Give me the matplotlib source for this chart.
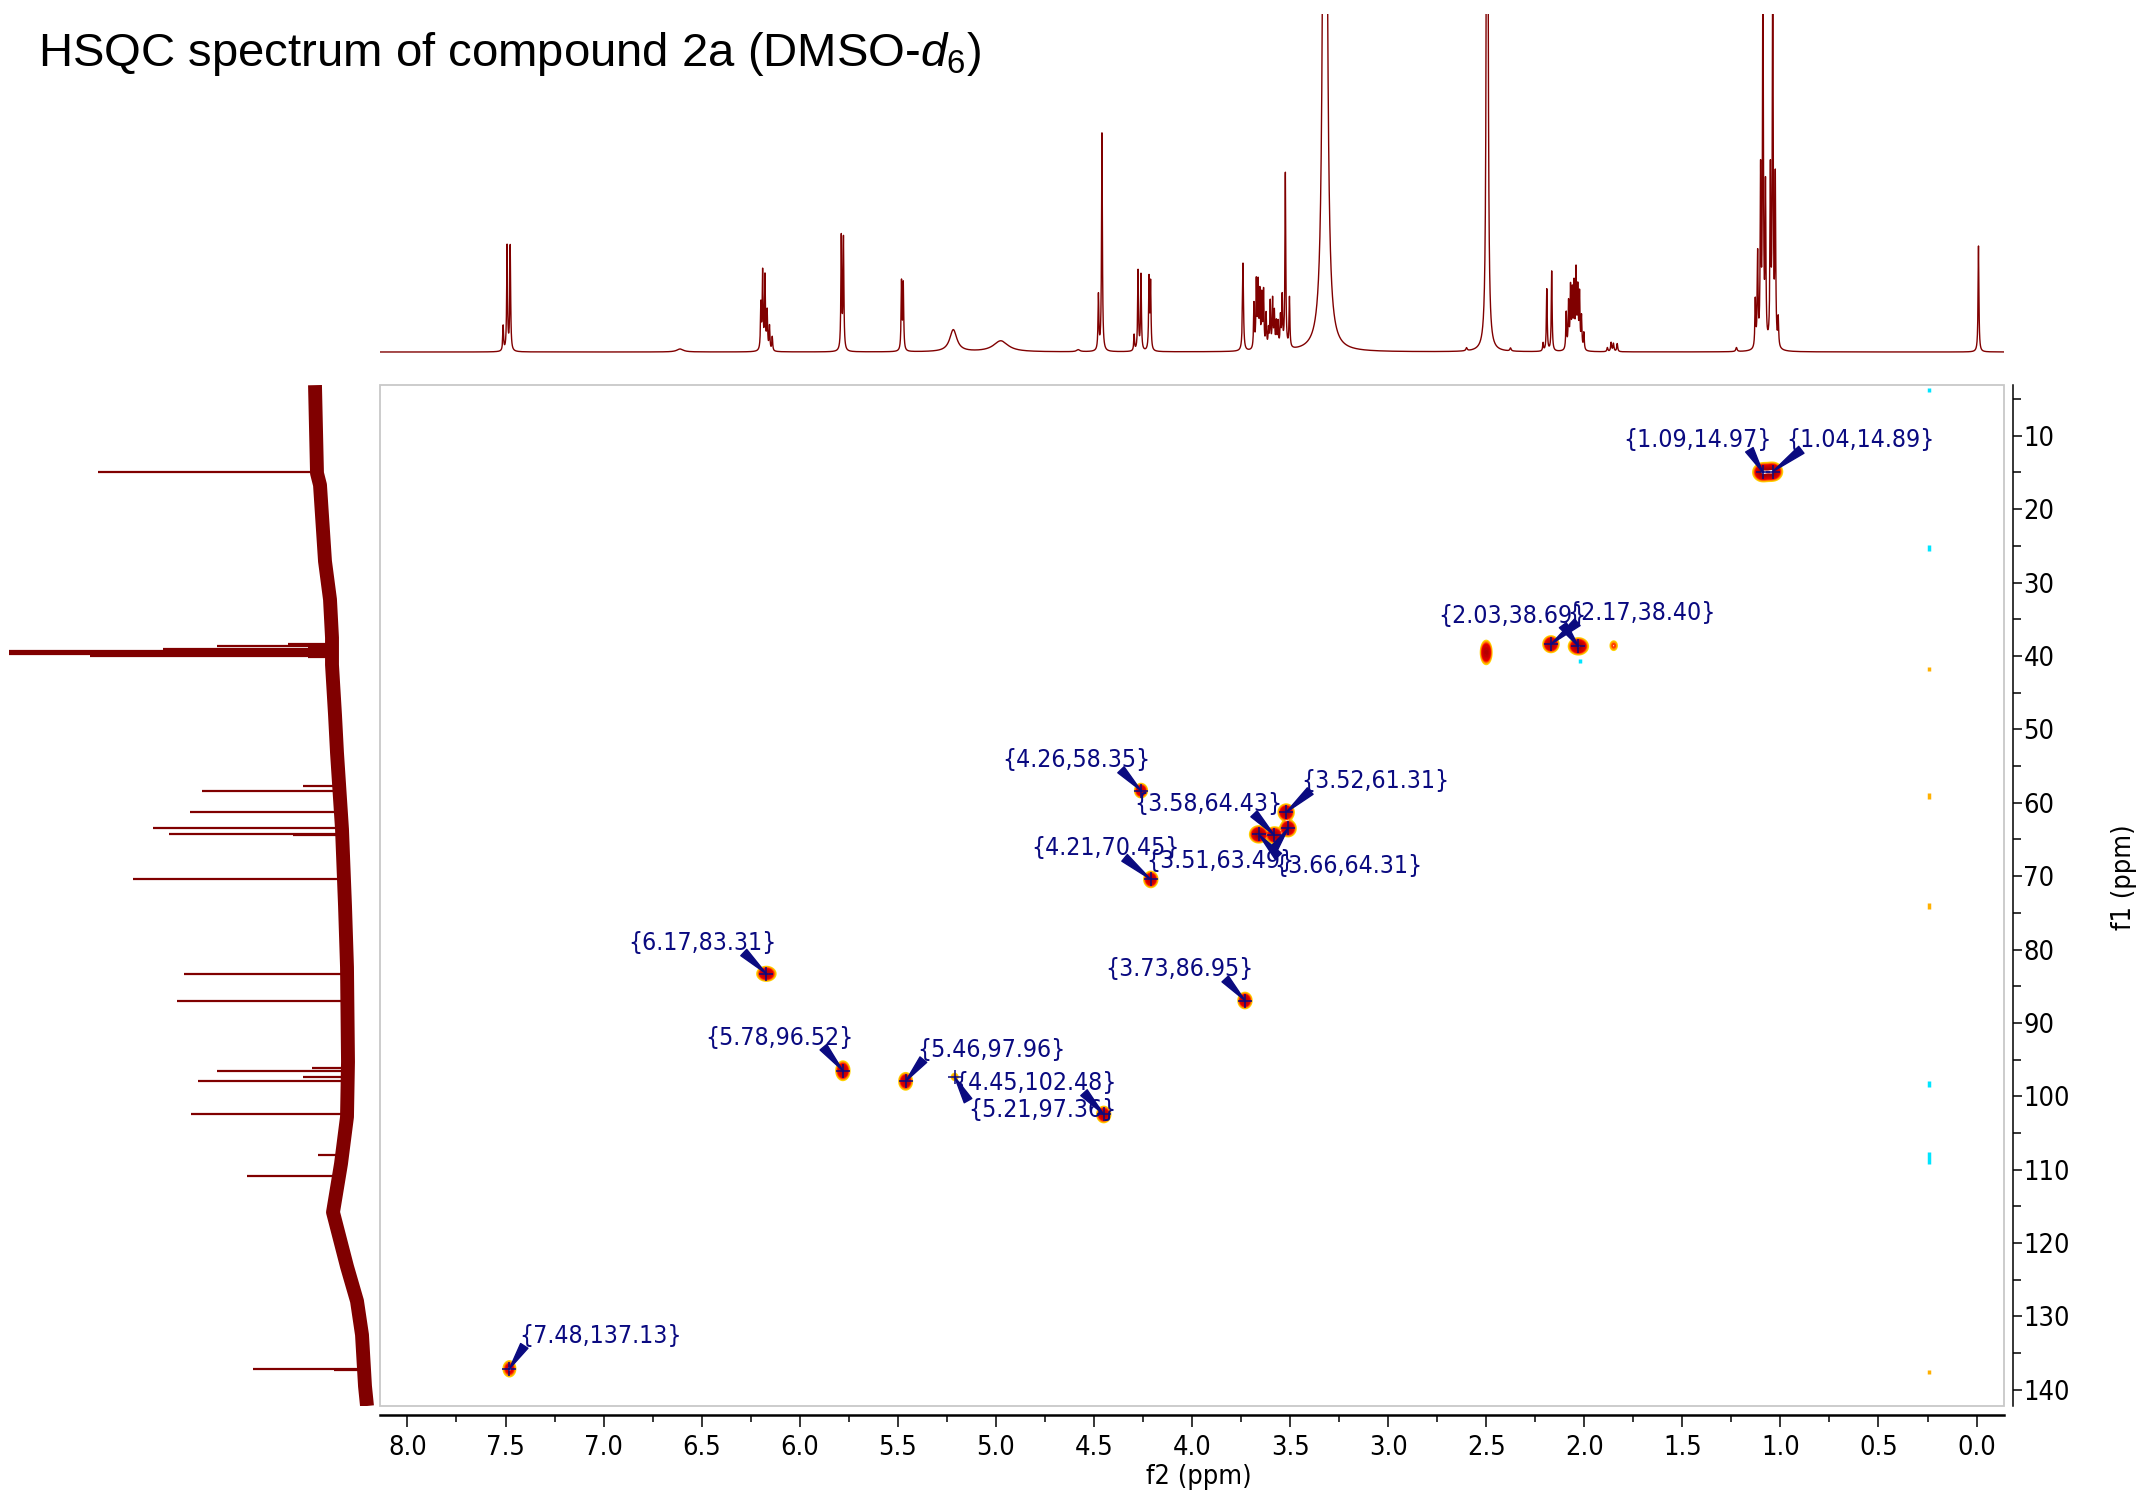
### HSQC spectrum of compound 2a, redrawn with matplotlib ###
import numpy as np
import matplotlib
matplotlib.use('Agg')
import matplotlib.pyplot as plt
from matplotlib import font_manager as fm
from matplotlib.patches import Rectangle
from matplotlib.ticker import MultipleLocator, FuncFormatter

### DATA ###
# 1H trace (top): line positions (ppm), heights (px over baseline), half widths (ppm)
H_PPM = [7.512, 7.492, 7.476, 6.61,
         6.198, 6.189, 6.177, 6.166, 6.154, 6.140,
         5.788, 5.777, 5.481, 5.472, 5.217, 4.975, 4.58,
         4.477, 4.459, 4.295, 4.275, 4.260, 4.219, 4.211,
         3.740, 3.684, 3.672, 3.663, 3.654, 3.644, 3.635, 3.622, 3.610,
         3.601, 3.589, 3.580, 3.570, 3.561, 3.549, 3.540, 3.524, 3.503,
         3.322, 2.60, 2.495, 2.376,
         2.21, 2.191, 2.166,
         2.092, 2.080, 2.070, 2.061, 2.052, 2.042, 2.033, 2.024, 2.014, 2.002,
         1.882, 1.863, 1.851, 1.832, 1.224,
         1.128, 1.116, 1.101, 1.089, 1.076, 1.051, 1.039, 1.026, 1.011,
         -0.01]
H_HEIGHT = [25, 105, 105, 3,
            45, 77, 73, 38, 24, 14,
            113, 111, 68, 66, 22, 11, 2,
            55, 218, 16, 80, 76, 71, 66,
            88, 45, 66, 63, 54, 51, 56, 34, 18,
            46, 48, 35, 25, 25, 30, 50, 175, 50,
            1500, 3, 1500, 3,
            8, 62, 80,
            37, 46, 60, 55, 62, 76, 58, 54, 32, 17,
            4, 9, 8, 8, 4,
            47, 92, 170, 400, 155, 170, 400, 165, 28,
            106]
H_WIDTH = [0.0025, 0.0025, 0.0025, 0.02,
           0.0025, 0.0025, 0.0025, 0.0025, 0.0025, 0.0025,
           0.0025, 0.0025, 0.0025, 0.0025, 0.022, 0.045, 0.01,
           0.0025, 0.0025, 0.0025, 0.0025, 0.0025, 0.0025, 0.0025,
           0.003, 0.0025, 0.0025, 0.0025, 0.0025, 0.0025, 0.0025, 0.0025, 0.0025,
           0.0025, 0.0025, 0.0025, 0.0025, 0.0025, 0.0025, 0.0025, 0.0025, 0.0025,
           0.0075, 0.004, 0.003, 0.004,
           0.0025, 0.0025, 0.0025,
           0.0025, 0.0025, 0.0025, 0.0025, 0.0025, 0.0025, 0.0025, 0.0025, 0.0025, 0.0025,
           0.003, 0.003, 0.003, 0.003, 0.004,
           0.0025, 0.0025, 0.0025, 0.0025, 0.0025, 0.0025, 0.0025, 0.0025, 0.0025,
           0.0025]

# 13C trace (left): line positions (ppm) and tip intensity (px left of the frame)
C_PPM = [14.93, 38.40, 38.69, 38.89, 39.10, 39.31, 39.52, 39.73, 39.94, 40.15,
         57.7, 58.35, 61.31, 63.49, 64.31, 64.43, 70.45, 83.31, 86.95,
         96.1, 96.52, 97.36, 97.96, 102.48, 108.0, 110.9, 137.13, 137.3]
C_INT = [280, 90, 161, 70, 215, 430, 500, 430, 288, 70,
         75, 176, 188, 225, 209, 85, 245, 194, 201,
         66, 161, 75, 180, 187, 60, 131, 125, 44]
# drifting noisy baseline of the 13C trace
C_BASE_PPM = [3.1, 15.1, 16.7, 27.1, 32.3, 37.5, 41.2, 48.0, 53.2, 63.6, 74.0,
              82.4, 95.3, 102.8, 109.2, 115.8, 123.2, 127.9, 132.5, 139.5, 142.2]
C_BASE_INT = [63, 61, 58, 53, 48, 46, 46, 43, 41, 36, 33,
              31, 30, 31, 37, 45, 31, 21, 16, 13, 11]

# labelled cross peaks (f2 = 1H, f1 = 13C)
XP_H = [1.09, 1.04, 2.03, 2.17, 4.26, 3.52, 3.58, 3.51, 3.66,
        4.21, 6.17, 3.73, 5.78, 5.46, 5.21, 4.45, 7.48]
XP_C = [14.97, 14.89, 38.69, 38.40, 58.35, 61.31, 64.43, 63.49, 64.31,
        70.45, 83.31, 86.95, 96.52, 97.96, 97.36, 102.48, 137.13]
XP_AMP = [1.0, 1.0, 1.0, 0.9, 0.7, 0.9, 0.9, 0.9, 1.0,
          0.8, 0.8, 0.8, 0.8, 0.7, 0.18, 0.8, 0.5]
XP_SX = [0.022, 0.022, 0.022, 0.018, 0.015, 0.018, 0.018, 0.018, 0.02,
         0.016, 0.022, 0.016, 0.016, 0.016, 0.012, 0.016, 0.016]
XP_SY = [0.55, 0.55, 0.5, 0.5, 0.45, 0.5, 0.5, 0.5, 0.5,
         0.5, 0.45, 0.5, 0.6, 0.55, 0.35, 0.5, 0.55]
# label centres (ppm) and arrow start on the label box
LABEL_H = [1.423, 0.591, 2.366, 1.71, 4.589, 3.065, 3.918, 3.855, 3.205,
           4.442, 6.497, 4.065, 6.106, 5.022, 4.764, 4.799, 7.015]
LABEL_C = [10.6, 10.6, 34.5, 34.1, 54.2, 57.1, 60.2, 67.9, 68.6,
           66.2, 79.1, 82.7, 92.0, 93.7, 101.9, 98.2, 132.7]
LABEL_REL = [(0.85, 0.1), (0.1, 0.1), (0.84, 0.1), (0.07, 0.1), (0.8, 0.1),
             (0.06, 0.1), (0.81, 0.1), (0.85, 0.9), (0.03, 0.9), (0.63, 0.1),
             (0.78, 0.1), (0.81, 0.1), (0.8, 0.1), (0.04, 0.1), (0.0, 0.9),
             (0.8, 0.1), (0.03, 0.1)]

# unlabelled contours (DMSO and a weak one)
EXTRA_H = [2.50, 1.85]
EXTRA_C = [39.52, 38.6]
EXTRA_AMP = [0.8, 0.25]
EXTRA_SX = [0.013, 0.011]
EXTRA_SY = [0.75, 0.4]

# small t1 noise specks
NOISE_H = [0.24, 0.24, 0.24, 0.24, 0.24, 0.24, 0.24, 0.24, 2.02]
NOISE_C = [3.8, 25.3, 41.8, 59.1, 74.1, 98.3, 108.4, 137.6, 40.7]
NOISE_COL = ['#00E5FF', '#00E5FF', '#FFB000', '#FFB000', '#FFB000',
             '#00E5FF', '#00E5FF', '#FFB000', '#00E5FF']
NOISE_MS = [3, 5, 3, 4, 4, 4, 8, 3, 3]

LEVELS = [0.08, 0.13, 0.2, 0.28, 0.38, 0.5, 0.62, 0.75, 0.88]
LEVEL_COLORS = ['#FFD400', '#FF9A00', '#FF3C00', '#E80000', '#D80000',
                '#CC0000', '#C00000', '#B40000', '#A80000']

### STYLE ###
SPEC = '#800000'
NAVY = '#0A0A80'
W, H = 2149, 1494
XLIM = (8.14, -0.14)
YLIM = (142.2, 3.08)

cond = fm.findfont(fm.FontProperties(family='DejaVu Sans', stretch='condensed'))
if 'Condensed' in cond:
    plt.rcParams['font.stretch'] = 'condensed'
    TICK_FS, ANN_FS = 19.5, 17.8
else:
    TICK_FS, ANN_FS = 17.5, 15.5
plt.rcParams['font.family'] = ['DejaVu Sans']
plt.rcParams['mathtext.fontset'] = 'custom'
plt.rcParams['mathtext.rm'] = 'Liberation Sans'
plt.rcParams['mathtext.it'] = 'Liberation Sans:italic'

fig = plt.figure(figsize=(W / 100, H / 100), dpi=100)

### TOP 1H TRACE ###
ax_top = fig.add_axes([380 / W, 1 - 358 / H, 1624 / W, 344 / H])
h_axis = np.linspace(XLIM[1], XLIM[0], 60000)
h_trace = np.zeros_like(h_axis)
for p, hgt, w in zip(H_PPM, H_HEIGHT, H_WIDTH):
    h_trace += hgt * w ** 2 / (w ** 2 + (h_axis - p) ** 2)
ax_top.plot(h_axis, h_trace, color=SPEC, lw=1.0)
ax_top.set_xlim(*XLIM)
ax_top.set_ylim(-6, 338)
ax_top.axis('off')

### LEFT 13C TRACE ###
ax_c = fig.add_axes([9 / W, 1 - 1406 / H, 369 / W, 1021 / H])
ax_c.plot(C_BASE_INT, C_BASE_PPM, color=SPEC, lw=10, solid_capstyle='butt')
base_at = np.interp(C_PPM, C_BASE_PPM, C_BASE_INT)
ax_c.hlines(C_PPM, base_at, C_INT, color=SPEC, lw=1.6)
ax_c.set_xlim(369, 0)
ax_c.set_ylim(*YLIM)
ax_c.axis('off')

### MAIN 2D PANEL ###
ax = fig.add_axes([380 / W, 1 - 1406 / H, 1624 / W, 1021 / H])
gx = np.linspace(XLIM[1], XLIM[0], 2100)
gy = np.linspace(YLIM[1], YLIM[0], 1400)
Z = np.zeros((gy.size, gx.size))
for h, c, a, sx, sy in zip(XP_H + EXTRA_H, XP_C + EXTRA_C, XP_AMP + EXTRA_AMP,
                           XP_SX + EXTRA_SX, XP_SY + EXTRA_SY):
    Z += a * np.outer(np.exp(-0.5 * ((gy - c) / sy) ** 2),
                      np.exp(-0.5 * ((gx - h) / sx) ** 2))
ax.contour(gx, gy, Z, levels=LEVELS, colors=LEVEL_COLORS, linewidths=1.4)

for h, c, col, ms in zip(NOISE_H, NOISE_C, NOISE_COL, NOISE_MS):
    ax.plot(h, c, marker='|', color=col, ms=ms, mew=2.5)

ax.plot(XP_H, XP_C, '+', color=NAVY, ms=10, mew=1.1, zorder=5)

for h, c, lh, lc, rel in zip(XP_H, XP_C, LABEL_H, LABEL_C, LABEL_REL):
    ax.annotate('{%.2f,%.2f}' % (h, c), xy=(h, c), xytext=(lh, lc),
                ha='center', va='center', fontsize=ANN_FS, color=NAVY, zorder=6,
                arrowprops=dict(arrowstyle='wedge,tail_width=0.35,shrink_factor=0.5',
                                color=NAVY, relpos=rel, patchA=None,
                                shrinkA=0, shrinkB=0))

ax.set_xlim(*XLIM)
ax.set_ylim(*YLIM)

# light grey frame, black offset axes at bottom and right
ax.add_patch(Rectangle((0, 0), 1, 1, transform=ax.transAxes, fill=False,
                       ec='#C8C8C8', lw=1.3, clip_on=False, zorder=0))
ax.spines['top'].set_visible(False)
ax.spines['left'].set_visible(False)
ax.spines['bottom'].set_position(('outward', 6.5))
ax.spines['right'].set_position(('outward', 6.5))
ax.spines['bottom'].set_linewidth(1.8)
ax.spines['right'].set_linewidth(1.1)

ax.xaxis.set_major_locator(MultipleLocator(0.5))
ax.xaxis.set_minor_locator(MultipleLocator(0.25))
ax.xaxis.set_major_formatter(FuncFormatter(lambda v, p: '%.1f' % (v + 0.0)))
ax.yaxis.tick_right()
ax.yaxis.set_major_locator(MultipleLocator(10))
ax.yaxis.set_minor_locator(MultipleLocator(5))
ax.yaxis.set_major_formatter(FuncFormatter(lambda v, p: '%d' % round(v)))
ax.tick_params(axis='x', which='major', direction='out', length=8.6, width=1.1,
               pad=5.5, labelsize=TICK_FS)
ax.tick_params(axis='x', which='minor', direction='out', length=5, width=1.1)
ax.tick_params(axis='y', which='major', direction='out', length=6.5, width=1.1,
               pad=1, labelsize=TICK_FS)
ax.tick_params(axis='y', which='minor', direction='out', length=5.5, width=1.1)
ax.tick_params(top=False, left=False, labelleft=False)

fig.text(1199 / W, 1 - 1477 / H, 'f2 (ppm)', ha='center', va='center', fontsize=TICK_FS)
fig.text(2124 / W, 1 - 877 / H, 'f1 (ppm)', ha='center', va='center',
         rotation=90, fontsize=TICK_FS)

fig.text(38 / W, 1 - 54 / H, r'HSQC spectrum of compound 2a (DMSO-$\mathit{d}_{6}$)',
         ha='left', va='center', fontsize=34, family='Liberation Sans', fontstretch='normal')

fig.savefig('out.png', dpi=100)
